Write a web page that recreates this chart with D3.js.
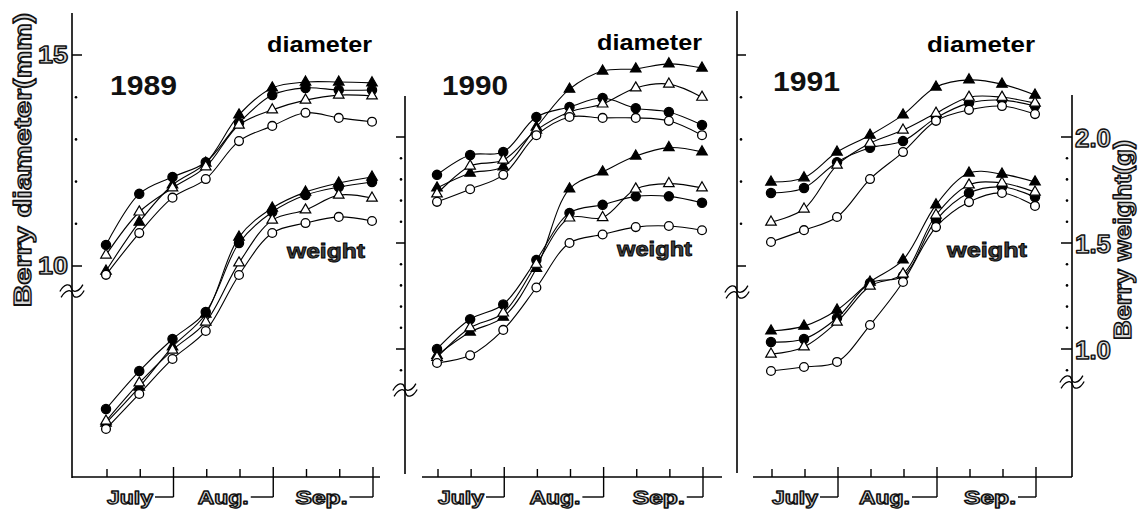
<!DOCTYPE html>
<html>
<head>
<meta charset="utf-8">
<script src="https://cdn.jsdelivr.net/npm/d3@7"></script>
<style>
  html, body { margin: 0; padding: 0; background: #fff; }
  svg { display: block; }
  text { font-family: "Liberation Sans", Arial, Helvetica, sans-serif; font-weight: bold; }
</style>
</head>
<body>
<script>
// ---------------- DATA ----------------
const dates = ["Jul 10", "Jul 20", "Jul 31", "Aug 10", "Aug 20", "Aug 31", "Sep 10", "Sep 20", "Sep 30"];
const months = ["July", "Aug.", "Sep."];
const years = ["1989", "1990", "1991"];
const seriesNames = ["filled triangle", "filled circle", "open triangle", "open circle"];
const diameterTicks = [10, 15];
const diameterTickLabels = ["10", "15"];
const diameterMinor = [11, 12, 13, 14];
const weightTicks = [1.0, 1.5, 2.0];
const weightTickLabels = ["1.0", "1.5", "2.0"];
const weightMinor = [0.9, 1.1, 1.2, 1.3, 1.4, 1.6, 1.7, 1.8, 1.9];

// Berry diameter (mm), series in seriesNames order
const diameter1989 = [
  [9.88, 11.04, 11.92, 12.44, 13.58, 14.22, 14.36, 14.36, 14.34],
  [10.50, 11.71, 12.11, 12.46, 13.39, 14.05, 14.22, 14.17, 14.17],
  [10.26, 11.28, 11.85, 12.35, 13.34, 13.70, 13.93, 14.05, 14.03],
  [9.79, 10.78, 11.62, 12.06, 12.96, 13.32, 13.63, 13.51, 13.42]
];
const diameter1990 = [
  [11.85, 12.20, 12.35, 13.29, 14.19, 14.62, 14.67, 14.79, 14.69],
  [12.16, 12.63, 12.70, 13.53, 13.77, 13.98, 13.74, 13.65, 13.34],
  [11.71, 12.37, 12.51, 13.22, 13.65, 13.84, 14.22, 14.31, 14.00],
  [11.52, 11.82, 12.16, 13.10, 13.53, 13.51, 13.51, 13.44, 13.10]
];
const diameter1991 = [
  [11.99, 12.09, 12.70, 13.10, 13.58, 14.24, 14.41, 14.31, 14.05],
  [11.73, 11.85, 12.46, 12.80, 12.96, 13.51, 13.86, 13.93, 13.79],
  [11.04, 11.35, 12.39, 12.91, 13.22, 13.62, 14.00, 14.00, 13.86],
  [10.57, 10.85, 11.16, 12.06, 12.70, 13.44, 13.70, 13.79, 13.60]
];
// Berry weight (g)
const weight1989 = [
  [0.651, 0.820, 1.010, 1.165, 1.528, 1.665, 1.740, 1.783, 1.811],
  [0.717, 0.896, 1.047, 1.175, 1.500, 1.646, 1.726, 1.764, 1.788],
  [0.660, 0.840, 0.995, 1.127, 1.406, 1.608, 1.656, 1.726, 1.712],
  [0.623, 0.788, 0.953, 1.085, 1.349, 1.547, 1.594, 1.623, 1.604]
];
const weight1990 = [
  [0.970, 1.080, 1.150, 1.380, 1.755, 1.835, 1.910, 1.950, 1.930],
  [1.000, 1.140, 1.210, 1.420, 1.642, 1.680, 1.720, 1.720, 1.690],
  [0.960, 1.100, 1.170, 1.400, 1.618, 1.620, 1.755, 1.780, 1.760],
  [0.934, 0.970, 1.090, 1.290, 1.500, 1.540, 1.575, 1.580, 1.560]
];
const weight1991 = [
  [1.085, 1.108, 1.184, 1.316, 1.420, 1.680, 1.830, 1.825, 1.788],
  [1.033, 1.047, 1.146, 1.311, 1.344, 1.608, 1.736, 1.764, 1.717],
  [0.976, 1.010, 1.127, 1.297, 1.354, 1.632, 1.774, 1.783, 1.740],
  [0.896, 0.915, 0.939, 1.113, 1.316, 1.575, 1.693, 1.736, 1.675]
];

// ---------------- LAYOUT ----------------
const W = 1138, H = 511;
const svg = d3.select("body").append("svg").attr("width", W).attr("height", H);
svg.append("rect").attr("width", W).attr("height", H).attr("fill", "#fff");

const yD = d3.scaleLinear().domain([10, 15]).range([266, 55]);
const yW = d3.scaleLinear().domain([1.0, 2.0]).range([349, 137]);
const axisY = 477;

const panels = [
  { year: years[0], diam: diameter1989, wt: weight1989, range: [106, 372], xAxis: [72, 380],
    diamLbl: [267, 52, 105], yearLbl: [110, 95, 67], wtLbl: [287, 258, 78], monthOff: [1, -8, -10] },
  { year: years[1], diam: diameter1990, wt: weight1990, range: [437, 702], xAxis: [422, 722],
    diamLbl: [597, 50, 105], yearLbl: [442, 95, 66], wtLbl: [617, 256, 75], monthOff: [1, -7, -3] },
  { year: years[2], diam: diameter1991, wt: weight1991, range: [771, 1035], xAxis: [753, 1072],
    diamLbl: [927, 52, 108], yearLbl: [773, 91, 67], wtLbl: [947, 257, 80], monthOff: [1, -11, -5] }
];
const monthWidths = [46, 51, 52];

function outlined(sel, sw) {
  return sel.attr("fill", "#d8d8d8").attr("stroke", "#111").attr("stroke-width", sw || 1.4)
            .attr("stroke-linejoin", "round");
}

function breakMark(cx, cy) {
  const g = svg.append("g").attr("transform", `translate(${cx},${cy}) rotate(-12)`);
  [-3, 3].forEach(dy => {
    g.append("path")
      .attr("d", `M-12,${dy + 1} C-6,${dy - 6} 0,${dy - 5} 0,${dy} C0,${dy + 5} 6,${dy + 6} 12,${dy - 1}`)
      .attr("fill", "none").attr("stroke", "#000").attr("stroke-width", 1.3);
  });
}

// vertical axis helper
function vAxis(x, yTop, yBot, scale, major, minor, side, majorLen, minorOff) {
  svg.append("line").attr("x1", x).attr("x2", x).attr("y1", yTop).attr("y2", yBot)
    .attr("stroke", "#000").attr("stroke-width", 1.6);
  const s = side === "right" ? 1 : -1;
  major.forEach(v => {
    svg.append("line").attr("x1", x).attr("x2", x + s * majorLen)
      .attr("y1", scale(v)).attr("y2", scale(v)).attr("stroke", "#000").attr("stroke-width", 1.5);
  });
  minor.forEach(v => {
    svg.append("circle").attr("cx", x + s * minorOff).attr("cy", scale(v)).attr("r", 1.3).attr("fill", "#000");
  });
}

// Panel 1 left diameter axis
vAxis(72, 13, axisY + 1, yD, diameterTicks, diameterMinor, "right", 10, 4);
diameterTicks.forEach((v, i) => {
  outlined(svg.append("text").attr("x", 68).attr("y", yD(v) + 8).attr("text-anchor", "end")
    .attr("font-size", 24).attr("textLength", 30).attr("lengthAdjust", "spacingAndGlyphs")
    .text(diameterTickLabels[i]), 1.4);
});
breakMark(72, 291);

// Panel 2 left weight axis (unlabelled)
vAxis(405, 96, 474, yW, weightTicks, weightMinor, "left", 9, 4);
breakMark(405, 390);

// Panel 2 right / panel 3 left diameter axis (unlabelled)
vAxis(737, 11, 473, yD, diameterTicks, diameterMinor, "right", 9, 4);
breakMark(737, 292);

// Panel 3 right weight axis
vAxis(1072, 95, axisY, yW, weightTicks, weightMinor, "left", 11, 5);
weightTicks.forEach((v, i) => {
  outlined(svg.append("text").attr("x", 1075).attr("y", yW(v) + 10)
    .attr("font-size", 25).attr("textLength", 36).attr("lengthAdjust", "spacingAndGlyphs")
    .text(weightTickLabels[i]), 1.4);
});
breakMark(1072, 382);

// Axis titles
outlined(svg.append("text").attr("transform", "translate(31,160) rotate(-90)")
  .attr("text-anchor", "middle").attr("font-size", 23)
  .attr("textLength", 294).attr("lengthAdjust", "spacingAndGlyphs")
  .text("Berry diameter(mm)"), 1.4);
outlined(svg.append("text").attr("transform", "translate(1131,240) rotate(-90)")
  .attr("text-anchor", "middle").attr("font-size", 24)
  .attr("textLength", 200).attr("lengthAdjust", "spacingAndGlyphs")
  .text("Berry weight(g)"), 1.4);

// ---------------- PANELS ----------------
const triPath = d3.symbol().type(d3.symbolTriangle).size(48);

panels.forEach(p => {
  const x = d3.scalePoint().domain(dates).range(p.range);

  // x axis
  svg.append("line").attr("x1", p.xAxis[0]).attr("x2", p.xAxis[1]).attr("y1", axisY).attr("y2", axisY)
    .attr("stroke", "#000").attr("stroke-width", 1.6);
  dates.forEach((d, i) => {
    const isEnd = (i % 3 === 2);
    svg.append("line").attr("x1", x(d) + 1).attr("x2", x(d) + 1)
      .attr("y1", isEnd ? axisY - 10 : axisY - 8).attr("y2", isEnd ? 497 : axisY)
      .attr("stroke", "#000").attr("stroke-width", 1.4);
  });
  months.forEach((m, k) => {
    const x0 = x(dates[k * 3]) + p.monthOff[k];
    const xEnd = x(dates[k * 3 + 2]) + 1;
    outlined(svg.append("text").attr("x", x0).attr("y", 504)
      .attr("font-size", 18).attr("textLength", monthWidths[k]).attr("lengthAdjust", "spacingAndGlyphs")
      .text(m), 1.3);
    svg.append("line").attr("x1", x0 + monthWidths[k] + 2).attr("x2", xEnd).attr("y1", 497).attr("y2", 497)
      .attr("stroke", "#000").attr("stroke-width", 1.4);
  });

  // labels
  svg.append("text").attr("x", p.diamLbl[0]).attr("y", p.diamLbl[1]).attr("font-size", 22)
    .attr("textLength", p.diamLbl[2]).attr("lengthAdjust", "spacingAndGlyphs").attr("fill", "#000").text("diameter");
  svg.append("text").attr("x", p.yearLbl[0]).attr("y", p.yearLbl[1]).attr("font-size", 27)
    .attr("textLength", p.yearLbl[2]).attr("lengthAdjust", "spacingAndGlyphs").attr("fill", "#111").text(p.year);
  svg.append("text").attr("x", p.wtLbl[0]).attr("y", p.wtLbl[1]).attr("font-size", 21)
    .attr("textLength", p.wtLbl[2]).attr("lengthAdjust", "spacingAndGlyphs")
    .attr("fill", "#444").attr("stroke", "#000").attr("stroke-width", 0.9).text("weight");

  // lines
  const groups = [{ data: p.diam, y: yD }, { data: p.wt, y: yW }];
  groups.forEach(gp => {
    const line = d3.line().x((v, i) => x(dates[i])).y(v => gp.y(v)).curve(d3.curveCatmullRom.alpha(0.5));
    gp.data.forEach(s => {
      svg.append("path").attr("d", line(s)).attr("fill", "none").attr("stroke", "#000").attr("stroke-width", 1.1);
    });
  });
  // markers
  groups.forEach(gp => {
    gp.data.forEach((s, si) => {
      const filled = (si === 0 || si === 1);
      const tri = (si === 0 || si === 2);
      s.forEach((v, i) => {
        const cx = x(dates[i]), cy = gp.y(v);
        if (tri) {
          svg.append("path").attr("d", triPath()).attr("transform", `translate(${cx},${cy})`)
            .attr("fill", filled ? "#000" : "#fff").attr("stroke", "#000").attr("stroke-width", 1.2);
        } else {
          svg.append("circle").attr("cx", cx).attr("cy", cy).attr("r", filled ? 4.6 : 4.4)
            .attr("fill", filled ? "#000" : "#fff").attr("stroke", "#000").attr("stroke-width", 1.3);
        }
      });
    });
  });
});
</script>
</body>
</html>
